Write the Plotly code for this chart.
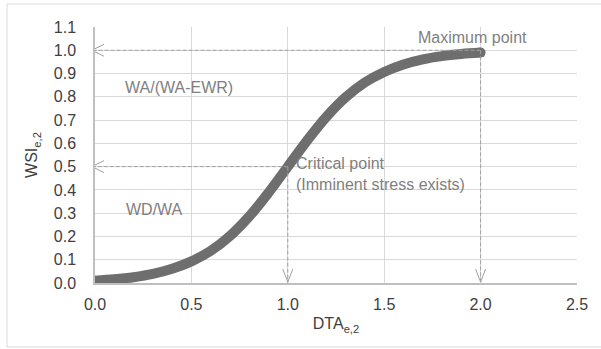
import plotly.graph_objects as go

# ---- data ----
dta = [0.0, 0.1, 0.2, 0.3, 0.4, 0.5, 0.6, 0.7, 0.8, 0.9, 1.0,
       1.1, 1.2, 1.3, 1.4, 1.5, 1.6, 1.7, 1.8, 1.9, 2.0]
wsi = [0.010, 0.016, 0.025, 0.039, 0.061, 0.093, 0.138, 0.202, 0.286, 0.388, 0.500,
       0.612, 0.714, 0.798, 0.862, 0.907, 0.939, 0.961, 0.975, 0.984, 0.990]

x_ticks = [0.0, 0.5, 1.0, 1.5, 2.0, 2.5]
y_ticks = [0.0, 0.1, 0.2, 0.3, 0.4, 0.5, 0.6, 0.7, 0.8, 0.9, 1.0, 1.1]

critical_pt = (1.0, 0.5)
maximum_pt = (2.0, 1.0)

labels = {
    "max": ("Maximum point", 1.96, 1.057),
    "wa": ("WA/(WA-EWR)", 0.145, 0.838),
    "wd": ("WD/WA", 0.15, 0.315),
    "crit": ("Critical point<br>(Imminent stress exists)", 1.03, 0.47),
}

# ---- styling ----
W, H = 601, 349
ML, MR, MT, MB = 95, 24, 27, 66
FONT = "Liberation Sans, Arial, sans-serif"
CURVE = "#6e6e6e"
DASH = "#a0a0a0"
GRID = "#d9d9d9"
TXT = "#404040"
NOTE = "#7f7f7f"

fig = go.Figure()
fig.add_trace(go.Scatter(x=dta, y=wsi, mode="lines",
                         line=dict(color=CURVE, width=10, shape="spline"),
                         hoverinfo="skip", showlegend=False))
fig.add_trace(go.Scatter(x=[dta[0], dta[-1]], y=[wsi[0], wsi[-1]], mode="markers",
                         marker=dict(color=CURVE, size=10),
                         hoverinfo="skip", showlegend=False))

shapes = []
dash_line = dict(color=DASH, width=1, dash="4px,2px")
for (px, py) in [critical_pt, maximum_pt]:
    # horizontal guide to y axis
    shapes.append(dict(type="line", xref="x", yref="y", x0=px, y0=py, x1=0, y1=py,
                       line=dash_line, layer="above"))
    # vertical guide to x axis
    shapes.append(dict(type="line", xref="x", yref="y", x0=px, y0=py, x1=px, y1=0,
                       line=dash_line, layer="above"))
    # arrowhead pointing left at y axis
    shapes.append(dict(type="path", xref="x", yref="y", xsizemode="pixel", ysizemode="pixel",
                       xanchor=0, yanchor=py, path="M 9,6 L -3,0 L 9,-6",
                       line=dict(color=DASH, width=1)))
    # arrowhead pointing down at x axis
    shapes.append(dict(type="path", xref="x", yref="y", xsizemode="pixel", ysizemode="pixel",
                       xanchor=px, yanchor=0, path="M -5,14 L 0,1 L 5,14",
                       line=dict(color=DASH, width=1)))

# outer chart border
pw = W - ML - MR
ph = H - MT - MB
shapes.append(dict(type="rect", xref="paper", yref="paper",
                   x0=(7 - ML) / pw, x1=(W + 10 - ML) / pw,
                   y0=(H - MB - 347) / ph, y1=(H - MB - 4) / ph,
                   line=dict(color=GRID, width=1), fillcolor="rgba(0,0,0,0)", layer="below"))

annotations = []
for key, (txt, ax_, ay_) in labels.items():
    annotations.append(dict(x=ax_, y=ay_, xref="x", yref="y", text=txt, showarrow=False,
                            xanchor="center" if key == "max" else "left",
                            yanchor="middle", align="left",
                            font=dict(family=FONT, size=16, color=NOTE)))

fig.update_layout(
    width=W, height=H,
    margin=dict(l=ML, r=MR, t=MT, b=MB, pad=0),
    paper_bgcolor="white", plot_bgcolor="white",
    font=dict(family=FONT, size=16, color=TXT),
    shapes=shapes, annotations=annotations,
    xaxis=dict(range=[0, 2.5], tickvals=x_ticks, tickformat=".1f",
               showgrid=True, gridcolor=GRID, gridwidth=1,
               showline=True, linecolor="#bfbfbf", linewidth=1.5,
               zeroline=False, ticks="", ticklabelstandoff=6,
               title=dict(text="DTA<sub>e,2</sub>", standoff=6,
                          font=dict(family=FONT, size=16, color=TXT))),
    yaxis=dict(range=[0, 1.1], tickvals=y_ticks, tickformat=".1f",
               showgrid=True, gridcolor=GRID, gridwidth=1,
               showline=True, linecolor="#bfbfbf", linewidth=1.5,
               zeroline=False, ticks="", ticklabelstandoff=14,
               title=dict(text="WSI<sub>e,2</sub>", standoff=12,
                          font=dict(family=FONT, size=16, color=TXT))),
)

fig.write_html("out.html")
